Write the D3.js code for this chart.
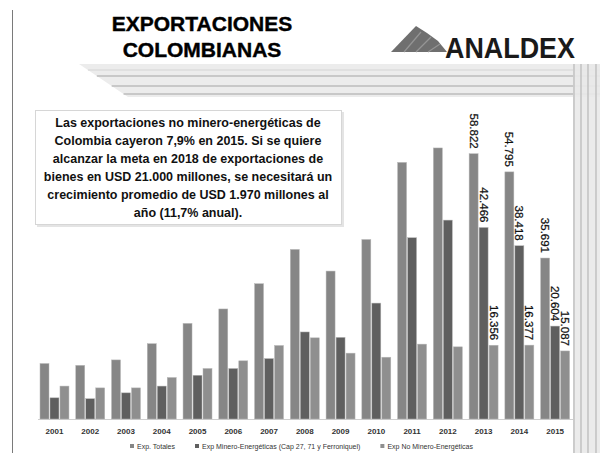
<!DOCTYPE html>
<html>
<head>
<meta charset="utf-8">
<script src="https://cdn.jsdelivr.net/npm/d3@7"></script>
<style>
  html, body { margin: 0; padding: 0; background: #fff; }
  svg { display: block; font-family: "Liberation Sans", Arial, sans-serif; }
</style>
</head>
<body>
<div id="chart"></div>
<script>
// Values in thousands of millions USD
var years = ["2001","2002","2003","2004","2005","2006","2007","2008","2009","2010","2011","2012","2013","2014","2015"];
var totales  = [12.3, 11.9, 13.1, 16.7, 21.2, 24.4, 30.0, 37.6, 32.8, 39.8, 56.9, 60.1, 58.822, 54.795, 35.691];
var minero   = [4.7, 4.5, 5.8, 7.3, 9.7, 11.2, 13.4, 19.3, 18.1, 25.7, 40.2, 44.1, 42.466, 38.418, 20.604];
var noMinero = [7.3, 6.9, 6.9, 9.2, 11.2, 12.9, 16.3, 18.0, 14.6, 13.7, 16.6, 16.0, 16.356, 16.377, 15.087];
var labeledYears = ["2013","2014","2015"];
var seriesNames = ["Exp. Totales", "Exp Minero-Energéticas (Cap 27, 71 y Ferroniquel)", "Exp No Minero-Energéticas"];
var seriesColors = ["#868686", "#5f5f5f", "#8f8f8f"];
var titleLines = ["EXPORTACIONES", "COLOMBIANAS"];
var noteLines = [
  "Las exportaciones no minero-energéticas de",
  "Colombia cayeron 7,9% en 2015. Si se quiere",
  "alcanzar la meta en 2018 de exportaciones de",
  "bienes en USD 21.000 millones, se necesitará un",
  "crecimiento promedio de USD 1.970 millones al",
  "año (11,7% anual)."
];

var width = 600, height = 453;
var svg = d3.select("#chart").append("svg")
    .attr("width", width)
    .attr("height", height);

// ---- decoration: left rule, header stripes, right stripes
svg.append("line")
    .attr("x1", 12.5).attr("x2", 12.5).attr("y1", 10).attr("y2", height)
    .attr("stroke", "#7a7a7a").attr("stroke-width", 1);

svg.append("polygon")
    .attr("points", "79,64 600,64 600,97 128,97")
    .attr("fill", "#ececec");
[70, 76, 86, 94].forEach(function(y){
    var x0 = 79 + (y - 64) * (49 / 33);
    svg.append("line")
        .attr("x1", x0).attr("x2", 600).attr("y1", y).attr("y2", y)
        .attr("stroke", y === 70 ? "#dcdcdc" : "#bdbdbd").attr("stroke-width", 1.6);
});

svg.append("rect")
    .attr("x", 573).attr("y", 64).attr("width", 27).attr("height", height - 64)
    .attr("fill", "#e9e9e9").attr("opacity", 0.9);
[574, 581, 588, 596].forEach(function(x){
    svg.append("line")
        .attr("x1", x).attr("x2", x).attr("y1", 64).attr("y2", height)
        .attr("stroke", "#c4c4c4").attr("stroke-width", 1.6);
});

// ---- title
svg.append("g").selectAll("text")
    .data(titleLines)
    .enter().append("text")
    .attr("x", 202)
    .attr("y", function(d, i){ return 31 + i * 26; })
    .attr("text-anchor", "middle")
    .style("font-size", "21px")
    .style("font-weight", "bold")
    .attr("fill", "#000")
    .attr("stroke", "#000").attr("stroke-width", 0.4)
    .text(function(d){ return d; });

// ---- logo
var logo = svg.append("g");
logo.append("polygon")
    .attr("points", "391,52 416,26 427,33 438,41 447,52")
    .attr("fill", "#6f6f6f");
[[404,52,421,32],[416,52,431,37],[428,52,440,44]].forEach(function(p){
    logo.append("line")
        .attr("x1", p[0]).attr("y1", p[1]).attr("x2", p[2]).attr("y2", p[3])
        .attr("stroke", "#959595").attr("stroke-width", 1.2);
});
logo.append("text")
    .attr("x", 445).attr("y", 58)
    .attr("textLength", 130).attr("lengthAdjust", "spacingAndGlyphs")
    .style("font-size", "29px")
    .style("font-weight", "bold")
    .attr("fill", "#1a1a1a")
    .text("ANALDEX");

// ---- scales
var baseY = 419;
var xScale = d3.scaleBand()
    .domain(years)
    .range([36.6, 573])
    .paddingInner(0.19)
    .paddingOuter(0.095);
var xInner = d3.scaleBand()
    .domain([0, 1, 2])
    .range([0, xScale.bandwidth()])
    .paddingInner(0.1);
var yScale = d3.scaleLinear()
    .domain([0, 65])
    .range([baseY, baseY - 65 * 4.51]);

var rows = years.map(function(y, i){
    return {year: y, values: [totales[i], minero[i], noMinero[i]]};
});

// ---- baseline
svg.append("line")
    .attr("x1", 38).attr("x2", 573).attr("y1", baseY + 0.5).attr("y2", baseY + 0.5)
    .attr("stroke", "#cfcfcf").attr("stroke-width", 1);

// ---- bars
var groups = svg.append("g").selectAll(".grp")
    .data(rows)
    .enter().append("g")
    .attr("class", "grp")
    .attr("transform", function(d){ return "translate(" + xScale(d.year) + ",0)"; });

groups.selectAll("rect")
    .data(function(d){ return d.values.map(function(v, k){ return {k: k, v: v, year: d.year}; }); })
    .enter().append("rect")
    .attr("x", function(d){ return xInner(d.k); })
    .attr("width", xInner.bandwidth())
    .attr("y", function(d){ return yScale(d.v); })
    .attr("height", function(d){ return baseY - yScale(d.v); })
    .attr("fill", function(d){ return seriesColors[d.k]; })
    .attr("stroke", "#b8b8b8")
    .attr("stroke-width", 0.5);

// value labels, rotated, only on last years
groups.filter(function(d){ return labeledYears.indexOf(d.year) >= 0; })
  .selectAll(".lbl")
    .data(function(d){ return d.values.map(function(v, k){ return {k: k, v: v}; }); })
    .enter().append("text")
    .attr("class", "lbl")
    .attr("transform", function(d){
        return "translate(" + (xInner(d.k) + xInner.bandwidth() / 2) + "," + (yScale(d.v) - 5) + ") rotate(90)";
    })
    .attr("text-anchor", "end")
    .attr("dy", "0.35em")
    .style("font-size", "11.5px")
    .attr("fill", "#111")
    .attr("stroke", "#111").attr("stroke-width", 0.25)
    .text(function(d){ return d3.format(".3f")(d.v); });

// ---- x axis labels
var xAxis = d3.axisBottom(xScale).tickSize(0).tickPadding(9);
var axG = svg.append("g")
    .attr("transform", "translate(0," + baseY + ")")
    .call(xAxis);
axG.select(".domain").remove();
axG.selectAll("text")
    .style("font-size", "8px")
    .style("font-weight", "bold")
    .style("font-family", "'Liberation Sans', Arial, sans-serif")
    .attr("fill", "#333");

// ---- note box
svg.append("rect")
    .attr("x", 37).attr("y", 112).attr("width", 307).attr("height", 115)
    .attr("fill", "#e4e4e4");
svg.append("rect")
    .attr("x", 35.5).attr("y", 110.5).attr("width", 306).attr("height", 114)
    .attr("fill", "#fff").attr("stroke", "#d6d6d6").attr("stroke-width", 1);
svg.append("g").selectAll("text")
    .data(noteLines)
    .enter().append("text")
    .attr("x", 188)
    .attr("y", function(d, i){ return 127 + i * 18; })
    .attr("text-anchor", "middle")
    .style("font-size", "12.5px")
    .style("font-weight", "bold")
    .attr("fill", "#111")
    .text(function(d){ return d; });

// ---- legend
var legend = svg.append("g").attr("transform", "translate(130,449)");
var lx = 0;
seriesNames.forEach(function(name, i){
    var item = legend.append("g").attr("transform", "translate(" + lx + ",0)");
    item.append("rect")
        .attr("x", 0).attr("y", -5).attr("width", 4).attr("height", 4)
        .attr("fill", seriesColors[i]);
    var t = item.append("text")
        .attr("x", 7).attr("y", 0)
        .style("font-size", "7px")
        .attr("fill", "#333")
        .text(name);
    lx += 7 + t.node().getComputedTextLength() + 20;
});
</script>
</body>
</html>
